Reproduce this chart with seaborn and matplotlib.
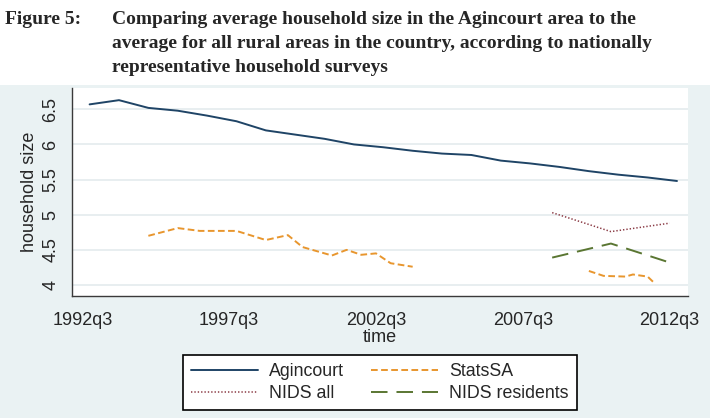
import matplotlib

matplotlib.use("Agg")
import matplotlib.pyplot as plt
import pandas as pd
import seaborn as sns
from matplotlib.lines import Line2D
from matplotlib.patches import Rectangle

# Stata-style quarterly dates, household size values
agincourt_time = ["1992q4", "1993q4", "1994q4", "1995q4", "1996q4", "1997q4", "1998q4",
                  "1999q4", "2000q4", "2001q4", "2002q4", "2003q4", "2004q4", "2005q4",
                  "2006q4", "2007q4", "2008q4", "2009q4", "2010q4", "2011q4", "2012q4"]
agincourt_size = [6.57, 6.63, 6.52, 6.48, 6.41, 6.33, 6.20, 6.14, 6.08, 6.00, 5.96,
                  5.91, 5.87, 5.85, 5.77, 5.73, 5.68, 5.62, 5.57, 5.53, 5.48]

statssa_time_a = ["1994q4", "1995q4", "1996q3", "1997q4", "1998q4", "1999q3", "2000q1",
                  "2001q1", "2001q3", "2002q1", "2002q3", "2003q1", "2003q4"]
statssa_size_a = [4.70, 4.81, 4.77, 4.77, 4.64, 4.71, 4.54, 4.42, 4.50, 4.43, 4.45, 4.31, 4.26]
statssa_time_b = ["2009q4", "2010q2", "2011q1", "2011q2", "2011q4", "2012q1"]
statssa_size_b = [4.20, 4.13, 4.12, 4.15, 4.12, 4.02]

nids_time = ["2008q3", "2010q3", "2012q3"]
nids_all_size = [5.03, 4.76, 4.88]
nids_res_size = [4.39, 4.59, 4.32]

x_ticks = ["1992q3", "1997q3", "2002q3", "2007q3", "2012q3"]
y_ticks = [4, 4.5, 5, 5.5, 6, 6.5]
y_tick_labels = ["4", "4.5", "5", "5.5", "6", "6.5"]

TITLE_LINES = [
    "Comparing average household size in the Agincourt area to the",
    "average for all rural areas in the country, according to nationally",
    "representative household surveys",
]

COLORS = {
    "Agincourt": "#1f4466",
    "StatsSA": "#e8962e",
    "NIDS all": "#8a3a44",
    "NIDS residents": "#5a7632",
}


def tq(label: str) -> int:
    # quarters since 1960q1, like Stata's %tq
    year, quarter = label.split("q")
    return (int(year) - 1960) * 4 + int(quarter) - 1


def frame(times, values) -> pd.DataFrame:
    return pd.DataFrame({"t": [tq(s) for s in times], "size": values})


sns.set_theme(style="white")
plt.rcParams["font.family"] = ["Liberation Sans", "DejaVu Sans"]

fig = plt.figure(figsize=(7.10, 4.18), dpi=100)
fig.patch.set_facecolor("white")
fig.patches.append(Rectangle((0, 0), 1, 1 - 85 / 418, transform=fig.transFigure,
                             facecolor="#eaf2f3", edgecolor="none", zorder=-5))

ax = fig.add_axes([71.7 / 710, 1 - 295.7 / 418, (688 - 71.7) / 710, (295.7 - 88) / 418])
ax.set_facecolor("white")
ax.set_zorder(2)

lw = 1.4
styles = {
    "Agincourt": dict(lw=lw, linestyle="-"),
    "StatsSA": dict(lw=lw, linestyle=(0, (3.45, 1.75))),
    "NIDS all": dict(lw=1.1, linestyle=(0, (0.9, 1.3))),
    "NIDS residents": dict(lw=lw, linestyle=(0, (8.5, 4.6))),
}

sns.lineplot(data=frame(agincourt_time, agincourt_size), x="t", y="size", ax=ax,
             color=COLORS["Agincourt"], lw=lw, legend=False)
for times, values in [(statssa_time_a, statssa_size_a), (statssa_time_b, statssa_size_b)]:
    sns.lineplot(data=frame(times, values), x="t", y="size", ax=ax,
                 color=COLORS["StatsSA"], lw=lw, legend=False)
sns.lineplot(data=frame(nids_time, nids_all_size), x="t", y="size", ax=ax,
             color=COLORS["NIDS all"], lw=1.1, legend=False)
sns.lineplot(data=frame(nids_time, nids_res_size), x="t", y="size", ax=ax,
             color=COLORS["NIDS residents"], lw=lw, legend=False)

order = ["Agincourt", "StatsSA", "StatsSA", "NIDS all", "NIDS residents"]
for line, name in zip(ax.get_lines(), order):
    line.set_linestyle(styles[name]["linestyle"])
    line.set_dash_capstyle("butt")

ax.set_xlim(128.56, 212.5)
ax.set_ylim(3.848, 6.803)
ax.set_xticks([tq(s) for s in x_ticks])
ax.set_xticklabels(x_ticks, fontsize=13)
ax.set_yticks(y_ticks)
ax.set_yticklabels(y_tick_labels, fontsize=13, rotation=90, va="center")
ax.yaxis.grid(True, color="#e6edef", lw=1.3)
ax.xaxis.grid(False)
for side in ("top", "right"):
    ax.spines[side].set_visible(False)
for side in ("left", "bottom"):
    ax.spines[side].set_color("#3a3a3a")
    ax.spines[side].set_linewidth(1.0)
ax.tick_params(axis="x", direction="out", length=6, width=1.0, color="#3a3a3a", pad=6)
ax.tick_params(axis="y", direction="out", length=4, width=1.0, color="#3a3a3a", pad=5)
ax.set_xlabel("time", fontsize=13, labelpad=0)
ax.set_ylabel("household size", fontsize=13, labelpad=3)

names = ["Agincourt", "NIDS all", "StatsSA", "NIDS residents"]
handles = [Line2D([], [], color=COLORS[n], lw=styles[n]["lw"], linestyle=styles[n]["linestyle"],
                  dash_capstyle="butt") for n in names]
leg = fig.legend(handles, names, ncol=2, loc="center",
                 bbox_to_anchor=(379.7 / 710, 1 - 382.5 / 418),
                 fontsize=12.8, frameon=True, fancybox=False, edgecolor="black",
                 facecolor="white", framealpha=1, handlelength=3.8, handletextpad=0.6,
                 columnspacing=1.5, labelspacing=0.3, borderpad=0.45)
leg.get_frame().set_linewidth(1.2)

title_kw = dict(family=["Liberation Serif", "DejaVu Serif"], weight="bold", fontsize=14,
                va="baseline", ha="left")
fig.text(5 / 710, 1 - 24 / 418, "Figure 5:", **title_kw)
for i, text in enumerate(TITLE_LINES):
    fig.text(112 / 710, 1 - (24 + 24 * i) / 418, text, **title_kw)

fig.savefig("out.png", dpi=100)
